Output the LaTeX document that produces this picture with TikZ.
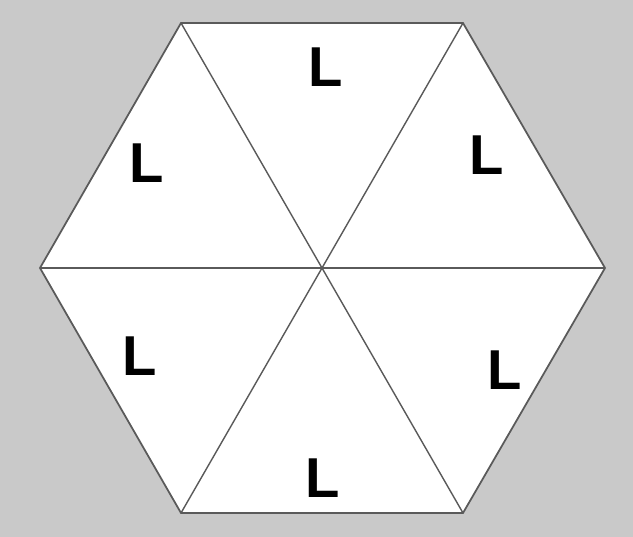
\documentclass[tikz,border=0pt]{standalone}
\usepackage{fontspec}
\setmainfont{Liberation Sans}
\usetikzlibrary{calc}
\definecolor{sfondo}{HTML}{C9C9C9}
\definecolor{bordo}{HTML}{5A5A5A}

\begin{document}
\begin{tikzpicture}[x=0.02cm, y=-0.02cm,
  lettera/.style={font=\fontsize{32}{32}\selectfont\bfseries, inner sep=0pt}]
  % Sfondo grigio (fissa i margini)
  \fill[sfondo] (0,0) rectangle (633,537);
  \useasboundingbox (0,0) rectangle (633,537);

  \coordinate (O)  at (322,268);
  \coordinate (P1) at (605,268);
  \coordinate (P2) at (463,23);
  \coordinate (P3) at (181,23);
  \coordinate (P4) at (40,268);
  \coordinate (P5) at (181,513);
  \coordinate (P6) at (463,513);

  % Esagono bianco
  \fill[white] (P1) -- (P2) -- (P3) -- (P4) -- (P5) -- (P6) -- cycle;
  \draw[bordo, line width=1pt, line join=miter]
        (P1) -- (P2) -- (P3) -- (P4) -- (P5) -- (P6) -- cycle;

  % Diagonali
  \draw[bordo, line width=0.8pt] (P2) -- (P5);
  \draw[bordo, line width=0.8pt] (P3) -- (P6);
  \draw[bordo, line width=1.3pt] (P4) -- (P1);

  % Lettere
  \node[lettera] (t1) at (326,67)  {L};
  \node[lettera] (t2) at (147,163) {L};
  \node[lettera] (t3) at (487,155) {L};
  \node[lettera] (t4) at (140,356) {L};
  \node[lettera] (t5) at (505,370) {L};
  \node[lettera] (t6) at (323,478) {L};
\end{tikzpicture}
\end{document}
